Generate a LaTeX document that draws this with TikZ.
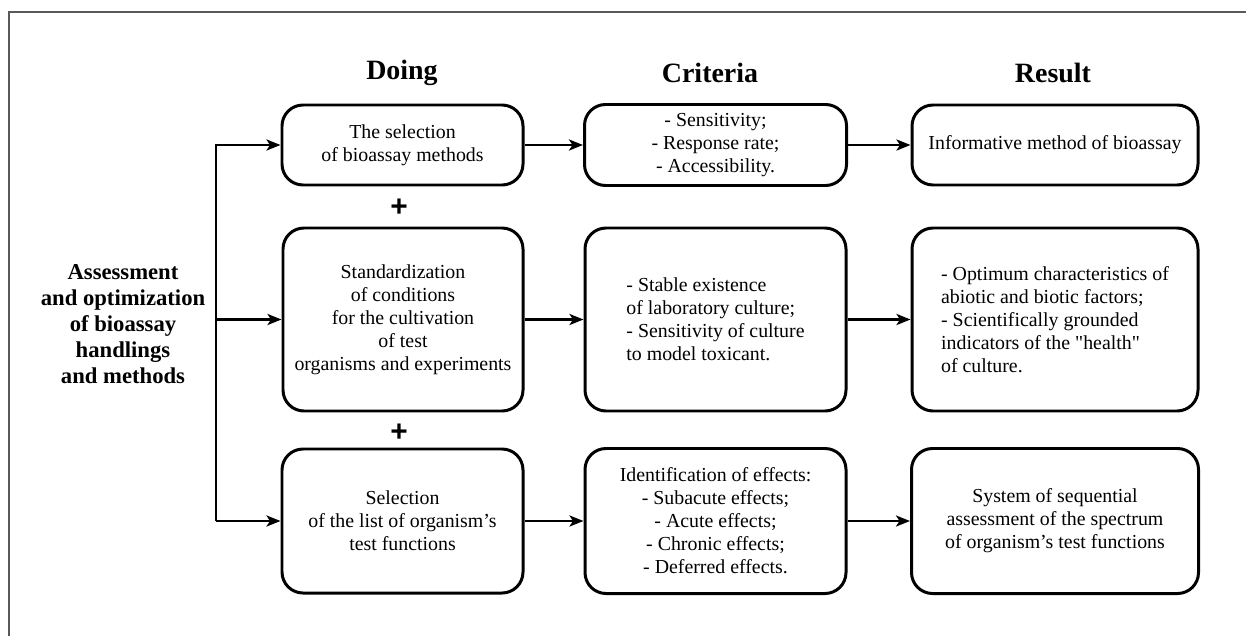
\documentclass[tikz,border=0pt]{standalone}
\usepackage{fontspec}
\setmainfont{Liberation Serif}
\setsansfont{Liberation Sans}
\usetikzlibrary{positioning,arrows.meta,calc}

\begin{document}
\begin{tikzpicture}[
  box/.style={rectangle, draw, line width=1.7pt, rounded corners=0.42cm, align=center, font=\rmfamily\fontsize{11.3}{13.1}\selectfont, inner sep=3pt},
  arrow/.style={-{Stealth[length=2.8mm, width=2.2mm, inset=0.7mm]}, line width=1.5pt},
  head/.style={font=\rmfamily\fontsize{15.9}{18}\selectfont\bfseries},
  plus/.style={font=\fontsize{17}{17}\selectfont\sffamily\bfseries, inner sep=0pt},
]
\useasboundingbox (0,0) rectangle (24.92,12.72);

% frame
\draw[gray!70!black, line width=1pt] (0.18,0) -- (0.18,12.48) -- (24.92,12.48);

% === COLUMN HEADINGS ===
\node[head] (hdoing) at (8.04, 11.26) {Doing};
\node[head] (hcrit) at (14.2, 11.26) {Criteria};
\node[head] (hres) at (21.06, 11.26) {Result};

% === LEFT TITLE ===
\node[align=center, font=\rmfamily\fontsize{12.9}{14.8}\selectfont\bfseries] (title) at (2.46, 6.24)
  {Assessment\\and optimization\\of bioassay\\handlings\\and methods};

% === DOING ===
\node[box, minimum width=4.82cm, minimum height=1.6cm] (doing1) at (8.05, 9.82) {The selection\\of bioassay methods};
\node[box, minimum width=4.8cm, minimum height=3.66cm] (doing2) at (8.06, 6.33) {Standardization\\of conditions\\for the cultivation\\of test\\organisms and experiments};
\node[box, minimum width=4.82cm, minimum height=2.88cm] (doing3) at (8.05, 2.3) {Selection\\of the list of organism's\\test functions};

\node[plus] (plus1) at (7.98, 8.56) {+};
\node[plus] (plus2) at (7.98, 4.06) {+};

% === CRITERIA ===
\node[box, minimum width=5.24cm, minimum height=1.62cm] (crit1) at (14.31, 9.82) {\rmfamily- Sensitivity;\\- Response rate;\\- Accessibility.};
\node[box, minimum width=5.22cm, minimum height=3.66cm, align=left] (crit2) at (14.31, 6.33) {- Stable existence\\of laboratory culture;\\- Sensitivity of culture\\to model toxicant.};
\node[box, minimum width=5.22cm, minimum height=2.9cm] (crit3) at (14.31, 2.3) {Identification of effects:\\- Subacute effects;\\- Acute effects;\\- Chronic effects;\\- Deferred effects.};

% === RESULT ===
\node[box, minimum width=5.72cm, minimum height=1.6cm] (res1) at (21.1, 9.82) {Informative method of bioassay};
\node[box, minimum width=5.72cm, minimum height=3.66cm, align=left] (res2) at (21.1, 6.33) {- Optimum characteristics of\\abiotic and biotic factors;\\- Scientifically grounded\\indicators of the \textquotedbl health\textquotedbl\\of culture.};
\node[box, minimum width=5.74cm, minimum height=2.9cm] (res3) at (21.1, 2.3) {System of sequential\\assessment of the spectrum\\of organism's test functions};

% === CONNECTORS ===
\coordinate (bus) at (4.32, 6.33);
\draw[arrow] (bus |- doing3.west) |- (doing1.west);
\draw[arrow] (bus) -- (doing2.west);
\draw[arrow] (bus |- doing3.west) -- (doing3.west);

\draw[arrow] (doing1) -- (crit1);
\draw[arrow] (doing2) -- (crit2);
\draw[arrow] (doing3) -- (crit3);
\draw[arrow] (crit1) -- (res1);
\draw[arrow] (crit2) -- (res2);
\draw[arrow] (crit3) -- (res3);
\end{tikzpicture}
\end{document}
